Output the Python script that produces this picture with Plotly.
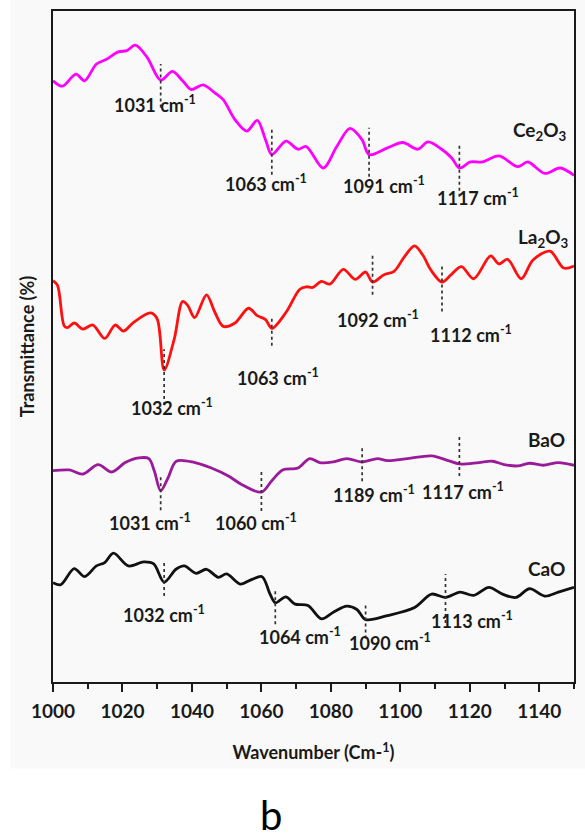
import numpy as np
import plotly.graph_objects as go

# ---- FTIR spectra (offset transmittance, arbitrary units) ----
ce_wn = [1000, 1002.7, 1006.6, 1009.1, 1012.5, 1015.4, 1018.8, 1021.3, 1023.7, 1027.1,
         1031, 1034.4, 1037.3, 1039.8, 1043.2, 1046.6, 1049.0, 1052.4, 1055.8, 1058.8,
         1061.2, 1063, 1067.1, 1070.5, 1072.9, 1077.8, 1081.7, 1085.5, 1089.0, 1091,
         1096.3, 1100.7, 1105.0, 1108.0, 1111.9, 1114.8, 1117, 1120.2, 1123.6, 1128.4,
         1133.8, 1136.7, 1141.6, 1146.0, 1150]
ce_t = [89.6, 88.8, 90.6, 89.6, 92.1, 92.8, 93.9, 94.1, 94.9, 93.1,
        89.7, 91.0, 89.6, 88.3, 89.0, 87.8, 86.8, 83.8, 82.1, 83.7,
        80.8, 78.6, 80.6, 79.4, 79.8, 76.6, 79.8, 82.5, 80.8, 78.6,
        79.6, 80.4, 79.4, 80.5, 79.4, 78.1, 76.6, 77.5, 77.5, 78.4,
        76.8, 77.5, 75.8, 76.6, 75.5]

la_wn = [1000, 1001.3, 1003.2, 1004.2, 1006.1, 1008.6, 1011.5, 1014.9, 1017.9, 1020.3,
         1023.2, 1028.1, 1030.0, 1032, 1034.9, 1037.3, 1038.8, 1040.8, 1044.2, 1046.6,
         1049.0, 1052.4, 1056.3, 1058.8, 1061.2, 1063, 1067.1, 1071.0, 1072.9, 1074.8,
         1077.3, 1079.7, 1083.6, 1087.0, 1090.0, 1092, 1095.3, 1098.2, 1101.2, 1104.1,
         1106.5, 1108.8, 1112, 1114.8, 1117.6, 1121.1, 1126.0, 1128.4, 1130.9, 1134.8,
         1138.2, 1143.1, 1147.0, 1150]
la_t = [59.8, 59.1, 53.1, 52.8, 53.5, 52.6, 53.2, 51.2, 53.2, 52.3,
        53.6, 55.0, 54.1, 46.5, 51.1, 56.7, 56.1, 54.3, 57.7, 55.1,
        53.0, 53.5, 55.7, 54.6, 54.0, 52.7, 55.1, 58.5, 58.9, 58.8,
        59.7, 59.3, 61.5, 60.0, 61.1, 59.6, 60.7, 61.2, 63.4, 65.0,
        63.6, 61.4, 59.6, 60.8, 61.9, 60.1, 63.5, 62.3, 63.0, 60.1,
        62.9, 64.2, 61.7, 62.0]

ba_wn = [1000, 1004.7, 1008.6, 1013.0, 1016.9, 1020.8, 1024.7, 1027.6, 1029.2, 1031,
         1033.1, 1035.5, 1040.8, 1045.6, 1050.5, 1054.4, 1060, 1063.0, 1066.1, 1070.5,
         1073.9, 1076.8, 1080.7, 1084.6, 1089.0, 1093.4, 1096.3, 1102.1, 1109.0, 1113.8,
         1117, 1122.6, 1126.5, 1129.9, 1133.8, 1137.2, 1141.1, 1145.5, 1150]
ba_t = [31.5, 31.6, 31.0, 32.4, 31.3, 32.7, 33.4, 33.3, 31.4, 28.5,
        30.4, 32.9, 32.7, 31.9, 30.7, 29.4, 28.3, 30.0, 31.6, 31.9,
        33.3, 32.7, 32.8, 33.3, 32.8, 33.3, 33.0, 33.3, 33.7, 33.0,
        32.5, 32.7, 32.9, 32.4, 32.2, 32.6, 32.3, 32.7, 32.3]

ca_wn = [1000, 1002.2, 1006.1, 1009.1, 1012.5, 1014.9, 1017.4, 1021.7, 1026.1, 1029.0,
         1032, 1035.4, 1037.8, 1041.2, 1044.2, 1047.6, 1050.0, 1053.9, 1057.3, 1060.2,
         1062.5, 1064, 1067.0, 1069.7, 1073.4, 1077.3, 1080.7, 1084.6, 1087.5, 1090,
         1096.3, 1104.1, 1109.0, 1113, 1117.2, 1121.1, 1125.5, 1129.4, 1133.3, 1137.2,
         1141.6, 1145.5, 1150]
ca_t = [14.8, 14.5, 16.9, 15.7, 17.3, 17.8, 19.2, 17.3, 17.9, 17.6,
        14.9, 16.8, 17.3, 16.2, 16.8, 15.6, 16.1, 14.6, 15.3, 15.7,
        13.1, 11.8, 12.7, 11.6, 11.4, 9.4, 10.4, 11.3, 10.8, 9.3,
        9.9, 11.1, 13.1, 12.6, 13.4, 12.9, 14.1, 13.1, 12.6, 13.9,
        12.8, 13.4, 14.1]

# ---- marked band positions and their printed labels ----
ce_peaks = [1031, 1063, 1091, 1117]
la_peaks = [1032, 1063, 1092, 1112]
ba_peaks = [1031, 1060, 1089, 1117]
ba_peak_text = ["1031", "1060", "1189", "1117"]
ca_peaks = [1032, 1064, 1090, 1113]

x_ticks = [1000, 1020, 1040, 1060, 1080, 1100, 1120, 1140]

FONT = "Lato"
INK = "#1a1a1a"

series = [
    dict(name="Ce<sub>2</sub>O<sub>3</sub>", wn=ce_wn, t=ce_t, color="#ff00ff",
         peaks=ce_peaks, texts=[str(p) for p in ce_peaks],
         # (dash top, dash bottom, label x, label y)
         marks=[(92.1, 85.6, 1029.3, 86.1), (82.3, 75.6, 1061.4, 74.3),
                (82.6, 75.3, 1095.2, 74.0), (80.1, 72.3, 1122.3, 72.3)],
         tag=(1148.6, 82.1)),
    dict(name="La<sub>2</sub>O<sub>3</sub>", wn=la_wn, t=la_t, color="#ff1010",
         peaks=la_peaks, texts=[str(p) for p in la_peaks],
         marks=[(49.6, 41.3, 1034.4, 41.0), (54.6, 50.1, 1064.9, 45.5),
                (63.7, 57.7, 1093.7, 54.1), (62.1, 55.2, 1120.3, 51.8)],
         tag=(1149.0, 66.1)),
    dict(name="BaO", wn=ba_wn, t=ba_t, color="#9a1a9a",
         peaks=ba_peaks, texts=ba_peak_text,
         marks=[(30.7, 25.6, 1027.9, 23.9), (31.5, 25.5, 1058.5, 23.9),
                (35.2, 29.9, 1092.3, 28.0), (36.7, 30.7, 1118.0, 28.4)],
         tag=(1148.0, 36.2)),
    dict(name="CaO", wn=ca_wn, t=ca_t, color="#111111",
         peaks=ca_peaks, texts=[str(p) for p in ca_peaks],
         marks=[(17.8, 12.8, 1031.9, 10.1), (13.6, 8.6, 1071.2, 6.8),
                (11.8, 6.5, 1096.9, 6.0), (16.1, 8.8, 1120.6, 9.3)],
         tag=(1148.0, 16.9)),
]

fig = go.Figure()
shapes = []
annotations = []

# light backdrop behind the figure panel
shapes.append(dict(type="rect", xref="paper", yref="paper",
                   x0=-0.082, x1=1.03, y0=-0.129, y1=1.02,
                   fillcolor="#f9f9f9", line_width=0, layer="below"))

for s in series:
    fig.add_trace(go.Scatter(
        x=s["wn"], y=s["t"], mode="lines",
        line=dict(color=s["color"], width=2.8, shape="spline", smoothing=0.9),
        showlegend=False, hoverinfo="skip"))
    for p, txt, (top, bot, lx, ly) in zip(s["peaks"], s["texts"], s["marks"]):
        shapes.append(dict(type="line", xref="x", yref="y", x0=p, x1=p, y0=bot, y1=top,
                           line=dict(color="#333333", width=1.7, dash="dot")))
        annotations.append(dict(
            x=lx, y=ly, xref="x", yref="y", showarrow=False,
            text=f"{txt} cm<sup>-1</sup>", xanchor="center", yanchor="middle",
            font=dict(family=FONT, size=18, color=INK, weight="bold")))
    annotations.append(dict(
        x=s["tag"][0], y=s["tag"][1], xref="x", yref="y", showarrow=False,
        text=s["name"], xanchor="right", yanchor="middle",
        font=dict(family=FONT, size=19, color=INK, weight="bold")))

# panel letter
annotations.append(dict(x=0.418, y=-0.198, xref="paper", yref="paper", showarrow=False,
                        text="b", xanchor="center", yanchor="middle",
                        font=dict(family=FONT, size=40, color="#000000")))

fig.update_layout(
    width=585, height=838,
    margin=dict(l=53, r=11, t=9, b=156),
    paper_bgcolor="#ffffff", plot_bgcolor="rgba(0,0,0,0)",
    shapes=shapes, annotations=annotations,
    font=dict(family=FONT, color=INK),
)

fig.update_xaxes(
    range=[1000, 1150], tickvals=x_ticks, ticks="outside", ticklen=8, tickwidth=2,
    tickcolor=INK, showline=True, linewidth=2, linecolor=INK, mirror=True,
    showgrid=False, zeroline=False, ticklabelstandoff=3,
    tickfont=dict(family=FONT, size=19, color=INK, weight="bold"),
    minor=dict(tickvals=[1010, 1030, 1050, 1070, 1090, 1110, 1130, 1150],
               ticks="outside", ticklen=5, tickwidth=2, tickcolor=INK),
    title=dict(text="Wavenumber (Cm-<sup>1</sup>)", standoff=26,
               font=dict(family=FONT, size=18, color=INK, weight="bold")),
)

fig.update_yaxes(
    range=[0, 100], showticklabels=False, ticks="", showline=True, linewidth=2,
    linecolor=INK, mirror=True, showgrid=False, zeroline=False,
    title=dict(text="Transmittance (%)", standoff=12,
               font=dict(family=FONT, size=18, color=INK, weight="bold")),
)

fig.write_html("out.html")
